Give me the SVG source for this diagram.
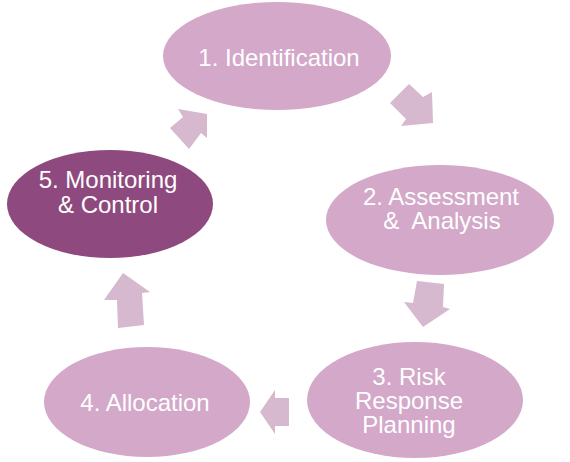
<svg xmlns="http://www.w3.org/2000/svg" width="570" height="462" viewBox="0 0 570 462">
<style>
.n{fill:#d3a8c9}
.d{fill:#8e4a7e}
.a{fill:#d6b8cf}
.t{font-family:"Liberation Sans",Arial,sans-serif;font-size:24px;fill:#ffffff;text-anchor:middle}
</style>
<rect width="570" height="462" fill="#ffffff"/>
<g id="connectors">
<polygon class="a" points="409,84 423,97 432,92 433,123 401,126 406,119 390,103"/>
<polygon class="a" points="417,281 444,284 443,307 450,309 423,327 404,302 413,303"/>
<polygon class="a" points="289,398 289,426 275,426 275,434 260,412 275,390 275,398"/>
<polygon class="a" points="123,273 150,292 142,293 144,325 118,328 117,300 104,300"/>
<polygon class="a" points="178,109 207,114 207,138 201,133 189,149 170,128 183,117"/>
</g>
<g id="n1">
<ellipse class="n" cx="277" cy="56" rx="114" ry="54"/>
<text class="t" x="279" y="66">1. Identification</text>
</g>
<g id="n2">
<ellipse class="n" cx="440" cy="220" rx="114" ry="55"/>
<text class="t" x="441" y="205">2. Assessment</text>
<text class="t" x="442" y="229" xml:space="preserve">&amp;  Analysis</text>
</g>
<g id="n3">
<ellipse class="n" cx="415" cy="400" rx="108" ry="58"/>
<text class="t" x="409" y="385">3. Risk</text>
<text class="t" x="409" y="409">Response</text>
<text class="t" x="409" y="433">Planning</text>
</g>
<g id="n4">
<ellipse class="n" cx="147" cy="402" rx="103" ry="55"/>
<text class="t" x="145" y="411">4. Allocation</text>
</g>
<g id="n5">
<ellipse class="d" cx="110" cy="204" rx="103" ry="54"/>
<text class="t" x="108" y="188">5. Monitoring</text>
<text class="t" x="108" y="213">&amp; Control</text>
</g>
</svg>
